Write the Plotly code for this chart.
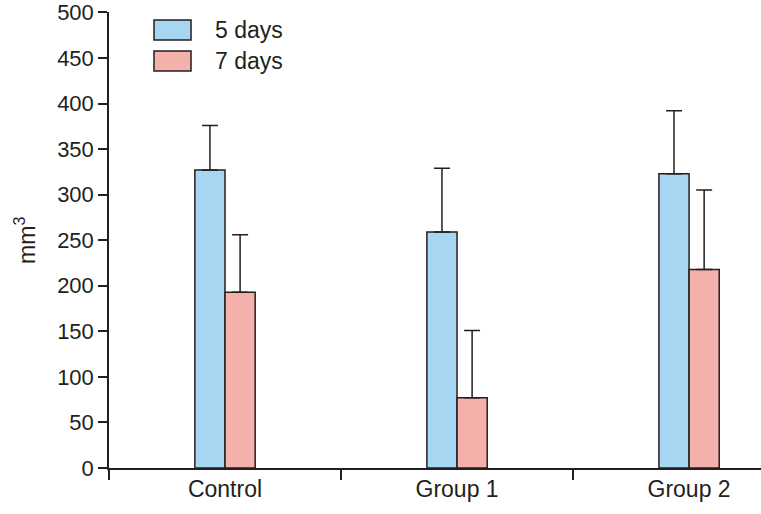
import plotly.graph_objects as go

categories = ["Control", "Group 1", "Group 2"]
series_names = ["5 days", "7 days"]
values_5d = [327, 259, 323]
values_7d = [193, 77, 218]
err_5d = [49, 70, 69]
err_7d = [63, 74, 87]
y_ticks = [0, 50, 100, 150, 200, 250, 300, 350, 400, 450, 500]
colors = ["#a6d6f2", "#f4b0aa"]
outline = "#231f20"
font_family = "Liberation Sans, Arial, sans-serif"
fsize = 23

fig = go.Figure()
for name, vals, errs, col in zip(series_names, [values_5d, values_7d], [err_5d, err_7d], colors):
    fig.add_trace(go.Bar(
        x=categories, y=vals, name=name,
        marker=dict(color=col, line=dict(color=outline, width=1.5)),
        error_y=dict(type="data", array=errs, symmetric=False, arrayminus=[0]*len(errs),
                     color=outline, thickness=1.5, width=8),
        showlegend=False,
    ))

fig.update_layout(
    width=761, height=514,
    margin=dict(l=109, r=0, t=12, b=46),
    paper_bgcolor="white", plot_bgcolor="white",
    barmode="group", bargap=0.74, bargroupgap=0,
    font=dict(family=font_family, size=fsize, color="#231f20"),
)
fig.update_xaxes(
    range=[-0.5, 2.31], showline=True, linecolor=outline, linewidth=1.5,
    ticks="outside", tickson="boundaries", ticklen=10, tickwidth=1.5, tickcolor=outline,
    showgrid=False, zeroline=False, automargin=False,
)
fig.update_yaxes(
    range=[0, 500.5], tickmode="array", tickvals=y_ticks, ticktext=[str(v) for v in y_ticks],
    tickfont=dict(size=22),
    showline=True, linecolor=outline, linewidth=1.5,
    ticks="outside", ticklen=9, tickwidth=1.5, tickcolor=outline,
    showgrid=False, zeroline=False, automargin=False,
)

fig.add_annotation(xref="paper", yref="paper", x=-0.129, y=0.5, text="mm<sup>3</sup>",
                   textangle=-90, showarrow=False, xanchor="center", yanchor="middle",
                   font=dict(family=font_family, size=fsize, color="#231f20"))

# custom legend
legend_y = [(0.9825, 0.9386), (0.9145, 0.8706)]
for name, col, (y1, y0) in zip(series_names, colors, legend_y):
    fig.add_shape(type="rect", xref="paper", yref="paper", x0=0.069, x1=0.1258, y0=y0, y1=y1,
                  fillcolor=col, line=dict(color=outline, width=1.5))
    fig.add_annotation(xref="paper", yref="paper", x=0.1595, y=(y0 + y1) / 2, text=name,
                       showarrow=False, xanchor="left", yanchor="middle",
                       font=dict(family=font_family, size=fsize, color="#231f20"))

fig.write_html("out.html", config={"displayModeBar": False},
               post_script="document.body.style.margin='0';document.body.style.overflow='hidden';")
